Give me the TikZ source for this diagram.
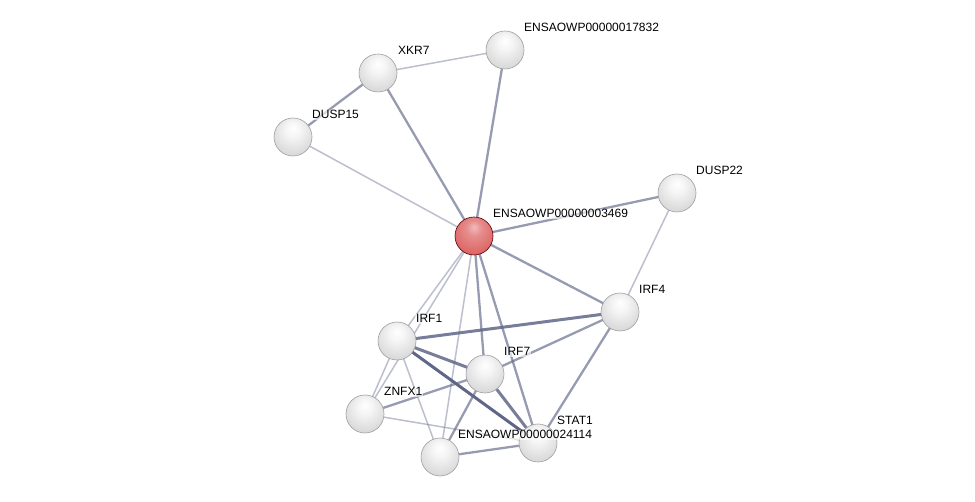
\documentclass[tikz,border=0pt]{standalone}
\usepackage{fontspec}
\setmainfont{Liberation Sans}
\usepackage{tikz}
\usetikzlibrary{positioning}

\definecolor{edgecol}{RGB}{96,102,135}
\definecolor{redball}{RGB}{222,104,104}

\pgfdeclareradialshading{greyball}{\pgfpoint{0bp}{12bp}}{color(0bp)=(white); color(10bp)=(white!96!black); color(28bp)=(white!86!black); color(46bp)=(white!78!black); color(56bp)=(white!70!black); color(62bp)=(white!60!black)}
\pgfdeclareradialshading{redshade}{\pgfpoint{0bp}{12bp}}{color(0bp)=(redball!45!white); color(10bp)=(redball!75!white); color(28bp)=(redball); color(46bp)=(redball!90!black); color(56bp)=(redball!75!black); color(62bp)=(redball!55!black)}

\tikzset{
  prot/.style={circle,minimum size=38pt,inner sep=0pt,shading=greyball,draw=gray!75,line width=0.6pt},
  query/.style={prot,shading=redshade,draw=red!35!black},
  lbl/.style={anchor=base west,font=\fontsize{12}{14}\selectfont,fill=white,fill opacity=0.6,text opacity=1,inner sep=1pt},
  weak/.style={draw=edgecol,opacity=0.42,line width=1.5pt},
  mid/.style={draw=edgecol,opacity=0.65,line width=2.3pt},
  strong/.style={draw=edgecol,opacity=0.85,line width=3pt},
}

\begin{document}
\begin{tikzpicture}[x=1pt,y=-1pt]
              \useasboundingbox (0,0) rectangle (975,502);

              \coordinate (p-xkr7) at (378,73);
              \coordinate (p-e17832) at (505,50);
              \coordinate (p-dusp15) at (293,137);
              \coordinate (p-dusp22) at (677,193);
              \coordinate (p-e3469) at (474,236);
              \coordinate (p-irf4) at (620,312);
              \coordinate (p-irf1) at (397,341);
              \coordinate (p-irf7) at (485,374);
              \coordinate (p-znfx1) at (365,414);
              \coordinate (p-stat1) at (538,443);
              \coordinate (p-e24114) at (440,457);

              %edges to the query protein
              \draw[mid] (p-e3469) -- (p-xkr7);
              \draw[mid] (p-e3469) -- (p-e17832);
              \draw[weak] (p-e3469) -- (p-dusp15);
              \draw[mid] (p-e3469) -- (p-dusp22);
              \draw[mid] (p-e3469) -- (p-irf4);
              \draw[weak] (p-e3469) -- (p-irf1);
              \draw[weak] (p-e3469) -- (p-znfx1);
              \draw[weak] (p-e3469) -- (p-e24114);
              \draw[mid] (p-e3469) -- (p-irf7);
              \draw[mid] (p-e3469) -- (p-stat1);

              %upper edges
              \draw[weak] (p-xkr7) -- (p-e17832);
              \draw[mid] (p-xkr7) -- (p-dusp15);
              \draw[weak] (p-dusp22) -- (p-irf4);

              %lower cluster
              \draw[strong] (p-irf1) -- (p-irf4);
              \draw[strong] (p-irf1) -- (p-irf7);
              \draw[strong,opacity=1] (p-irf1) -- (p-stat1);
              \draw[weak] (p-irf1) -- (p-znfx1);
              \draw[weak] (p-irf1) -- (p-e24114);
              \draw[mid] (p-irf7) -- (p-irf4);
              \draw[mid] (p-irf7) -- (p-znfx1);
              \draw[mid] (p-irf7) -- (p-e24114);
              \draw[strong] (p-irf7) -- (p-stat1);
              \draw[mid] (p-stat1) -- (p-irf4);
              \draw[mid] (p-stat1) -- (p-e24114);
              \draw[weak] (p-znfx1) -- (p-stat1);

              %proteins
              \node[prot] (xkr7) at (p-xkr7) {};
              \node[prot] (e17832) at (p-e17832) {};
              \node[prot] (dusp15) at (p-dusp15) {};
              \node[prot] (dusp22) at (p-dusp22) {};
              \node[query] (e3469) at (p-e3469) {};
              \node[prot] (irf4) at (p-irf4) {};
              \node[prot] (irf1) at (p-irf1) {};
              \node[prot] (irf7) at (p-irf7) {};
              \node[prot] (znfx1) at (p-znfx1) {};
              \node[prot] (stat1) at (p-stat1) {};
              \node[prot] (e24114) at (p-e24114) {};

              %labels
              \node[lbl] (l-xkr7) at ([shift={(19,-18)}]xkr7.center) {XKR7};
              \node[lbl] (l-e17832) at ([shift={(18,-18)}]e17832.center) {ENSAOWP00000017832};
              \node[lbl] (l-dusp15) at ([shift={(18,-18)}]dusp15.center) {DUSP15};
              \node[lbl] (l-dusp22) at ([shift={(18,-18)}]dusp22.center) {DUSP22};
              \node[lbl] (l-e3469) at ([shift={(18,-18)}]e3469.center) {ENSAOWP00000003469};
              \node[lbl] (l-irf4) at ([shift={(18,-18)}]irf4.center) {IRF4};
              \node[lbl] (l-irf1) at ([shift={(18,-18)}]irf1.center) {IRF1};
              \node[lbl] (l-irf7) at ([shift={(18,-18)}]irf7.center) {IRF7};
              \node[lbl] (l-znfx1) at ([shift={(18,-18)}]znfx1.center) {ZNFX1};
              \node[lbl] (l-stat1) at ([shift={(18,-18)}]stat1.center) {STAT1};
              \node[lbl] (l-e24114) at ([shift={(17,-18)}]e24114.center) {ENSAOWP00000024114};

            \end{tikzpicture}
\end{document}
